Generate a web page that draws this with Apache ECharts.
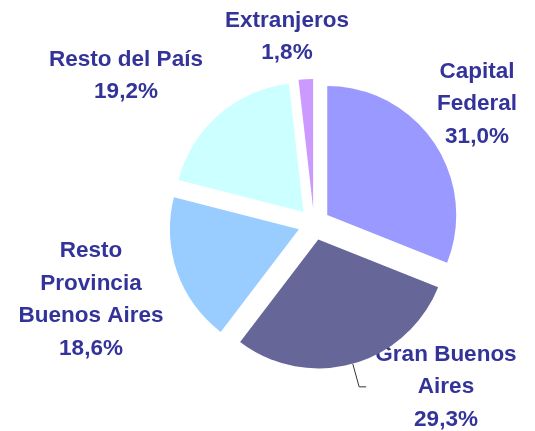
<!DOCTYPE html>
<html>
<head>
<meta charset="utf-8">
<title>Pie</title>
<script src="https://cdn.jsdelivr.net/npm/echarts@6/dist/echarts.min.js"></script>
</head>
<body style="margin:0;background:#fff;">
<div id="main" style="width:535px;height:431px;"></div>
<script type="text/javascript">
// datos (porcentajes)
var categories = ['Capital\nFederal', 'Gran Buenos\nAires', 'Resto\nProvincia\nBuenos Aires', 'Resto del País', 'Extranjeros'];
var values = [31.0, 29.3, 18.6, 19.2, 1.8];
var colors = ['#9999FF', '#666699', '#99CCFF', '#CCFFFF', '#CC99FF'];
var showLine = [false, true, false, false, false];
// centro del bloque de texto de cada etiqueta
var labelPos = [[477, 104], [446, 387], [91, 300], [126, 76], [287, 37]];

function fmt(v) {
    return v.toFixed(1).replace('.', ',') + '%';
}

var data = [];
var texts = [];
for (var i = 0; i < values.length; i++) {
    data.push({
        name: categories[i],
        value: values[i],
        selected: true,
        itemStyle: { color: colors[i] },
        label: { show: showLine[i] },
        labelLine: { show: showLine[i] }
    });
    texts.push({
        type: 'text',
        x: labelPos[i][0],
        y: labelPos[i][1],
        style: {
            text: categories[i] + '\n' + fmt(values[i]),
            fill: '#333399',
            font: 'bold 22.5px "Liberation Sans", Arial, sans-serif',
            lineHeight: 32.5,
            align: 'center',
            verticalAlign: 'middle'
        }
    });
}

var myChart = echarts.init(document.getElementById('main'));
myChart.setOption({
    animation: false,
    graphic: texts,
    series: [{
        type: 'pie',
        center: [314, 224],
        radius: 129,
        startAngle: 90,
        selectedMode: 'multiple',
        selectedOffset: 16,
        avoidLabelOverlap: false,
        data: data,
        label: {
            // solo se usa para la linea guia
            color: 'transparent',
            fontSize: 22,
            lineHeight: 32,
            alignTo: 'none'
        },
        labelLine: {
            lineStyle: { color: '#333333', width: 1 },
            length: 24,
            length2: 7
        },
        emphasis: { disabled: true }
    }]
});
</script>
</body>
</html>
